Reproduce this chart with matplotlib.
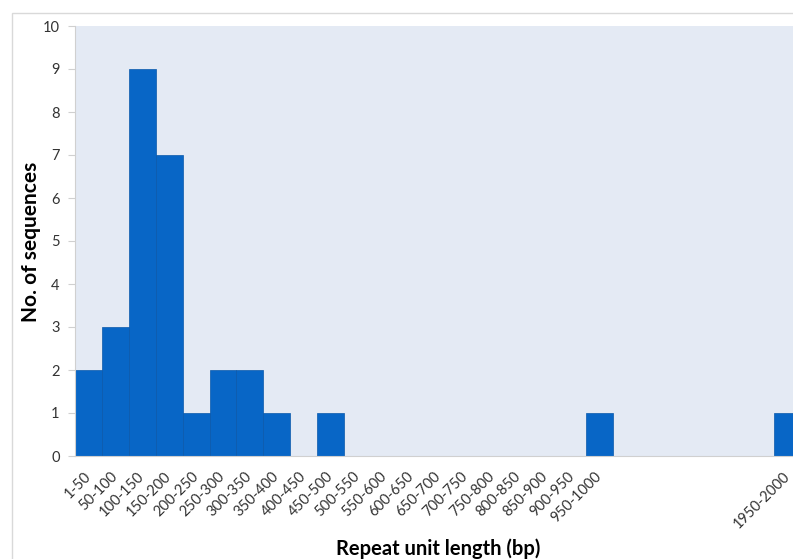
import matplotlib
matplotlib.use("Agg")
import matplotlib.pyplot as plt
import matplotlib.transforms as mtransforms
from matplotlib.patches import Rectangle

# Data
categories = ["1-50", "50-100", "100-150", "150-200", "200-250", "250-300",
              "300-350", "350-400", "400-450", "450-500", "500-550", "550-600",
              "600-650", "650-700", "700-750", "750-800", "800-850", "850-900",
              "900-950", "950-1000", "1950-2000"]
counts = [2, 3, 9, 7, 1, 2, 2, 1, 0, 1, 0, 0, 0, 0, 0, 0, 0, 0, 0, 1, 1]
# slot index of each category along the axis (gap between 950-1000 and 1950-2000)
slots = list(range(20)) + [26]
yticks = list(range(0, 11))

plt.rcParams['font.family'] = ['Lato', 'DejaVu Sans']

fig = plt.figure(figsize=(7.93, 5.59), dpi=100)
fig.patch.set_facecolor('white')

# outer chart border
fig.patches.append(Rectangle((12/793, -0.1), 1.2, (559-13)/559 + 0.1,
                             transform=fig.transFigure, fill=False,
                             edgecolor='#D9D9D9', linewidth=1.0))

ax = fig.add_axes([75/793, 1-456/559, 1-75/793, (456-26)/559])
ax.set_facecolor('#E4EAF4')

ax.bar(slots, counts, width=1.0, align='edge', color='#0866C6',
       edgecolor='#0A58AA', linewidth=0.5)

ax.set_xlim(0, (793-75)/26.9)
ax.set_ylim(0, 10)
ax.set_yticks(yticks)
ax.set_yticklabels([str(v) for v in yticks], fontsize=10.5, color='#333333')
ax.set_xticks([s + 0.5 for s in slots])
ax.set_xticklabels(categories, rotation=45, ha='right', va='center',
                   rotation_mode='anchor', fontsize=10.5, color='#333333')
shift = mtransforms.ScaledTranslation(-2/100, 0, fig.dpi_scale_trans)
for lbl in ax.get_xticklabels():
    lbl.set_transform(lbl.get_transform() + shift)
ax.tick_params(axis='x', length=0, pad=13)
ax.tick_params(axis='y', length=5, color='#D0D0D0', width=0.8, pad=6)

for s in ['top', 'right']:
    ax.spines[s].set_visible(False)
for s in ['left', 'bottom']:
    ax.spines[s].set_color('#D0D0D0')
    ax.spines[s].set_linewidth(0.8)

fig.text(31/793, 1-242/559, "No. of sequences", rotation=90, ha='center',
         va='center', fontsize=15, fontweight='bold', color='black')
fig.text(438/793, 1-549/559, "Repeat unit length (bp)", ha='center',
         va='center', fontsize=14.5, fontweight='bold', color='black')

fig.savefig("out.png", dpi=100)
